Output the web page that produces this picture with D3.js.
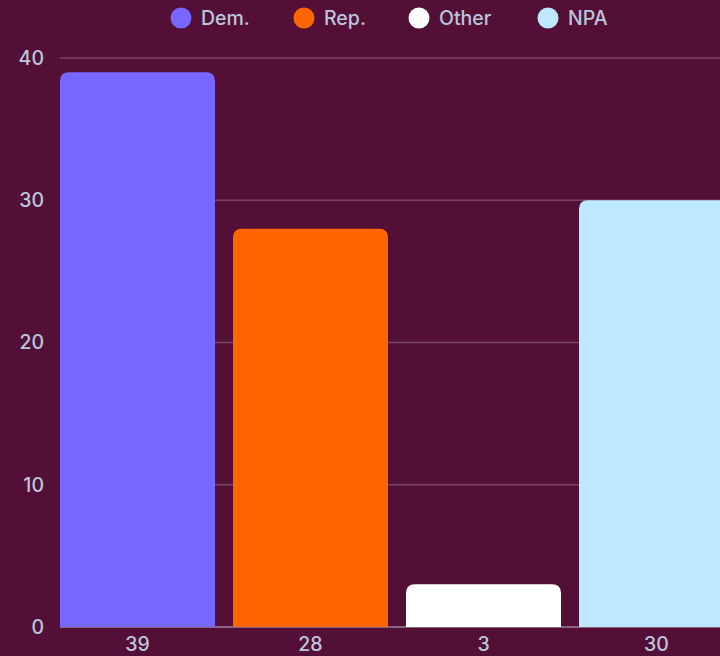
<!DOCTYPE html>
<html><head><meta charset="utf-8">
<script src="https://cdn.jsdelivr.net/npm/d3@7"></script>
<style>html,body{margin:0;padding:0;background:#540f36;overflow:hidden}</style>
</head><body>
<svg id="c" width="720" height="656"></svg>
<script>
const categories = ["Dem.", "Rep.", "Other", "NPA"];
const values = [39, 28, 3, 30];
const colors = ["#7766ff", "#ff6600", "#ffffff", "#bde8ff"];
const yTicks = [0, 10, 20, 30, 40];

const W = 720, H = 656;
const svg = d3.select("#c");
svg.append("rect").attr("width", W).attr("height", H).attr("fill", "#540f36");
const textColor = "#b9c6dd";
const font = "Inter, 'Noto Sans', sans-serif";
const fs = 19.5;

const x = d3.scaleBand().domain(categories).range([60, 734]).paddingInner(0.104).paddingOuter(0);
const y = d3.scaleLinear().domain([0, 40]).range([627, 58]);

// grid
svg.append("g").selectAll("line").data(yTicks.filter(d => d > 0)).join("line")
  .attr("x1", 60).attr("x2", W).attr("y1", d => y(d)).attr("y2", d => y(d))
  .attr("stroke", "rgba(255,255,255,0.22)").attr("stroke-width", 1.5);
svg.append("line").attr("x1", 60).attr("x2", W).attr("y1", y(0)).attr("y2", y(0))
  .attr("stroke", "rgba(200,200,220,0.6)").attr("stroke-width", 1.5);

// y labels
svg.append("g").selectAll("text").data(yTicks).join("text")
  .attr("x", 44).attr("y", d => y(d)).attr("dy", "0.35em").attr("text-anchor", "end")
  .attr("fill", textColor).attr("font-family", font).attr("font-size", fs).attr("font-weight", 500).text(d => d);

// bars with rounded top
const r = 9;
function barPath(x0, y0, w, h) {
  const rr = Math.min(r, h, w / 2);
  return `M${x0},${y0 + h}V${y0 + rr}Q${x0},${y0} ${x0 + rr},${y0}H${x0 + w - rr}Q${x0 + w},${y0} ${x0 + w},${y0 + rr}V${y0 + h}Z`;
}
svg.append("g").selectAll("path").data(categories).join("path")
  .attr("d", (c, i) => barPath(x(c), y(values[i]), x.bandwidth(), y(0) - y(values[i])))
  .attr("fill", (c, i) => colors[i]);

// x labels
svg.append("g").selectAll("text").data(categories).join("text")
  .attr("x", c => x(c) + x.bandwidth() / 2).attr("y", 644).attr("dy", "0.35em")
  .attr("text-anchor", "middle").attr("fill", textColor).attr("font-family", font).attr("font-size", fs).attr("font-weight", 500)
  .text((c, i) => values[i]);

// legend
const legX = [181, 304, 419, 548];
const lg = svg.append("g").selectAll("g").data(categories).join("g")
  .attr("transform", (c, i) => `translate(${legX[i]},18)`);
lg.append("circle").attr("r", 10.5).attr("fill", (c, i) => colors[i]);
lg.append("text").attr("x", 20).attr("dy", "0.35em").attr("fill", textColor)
  .attr("font-family", font).attr("font-size", fs).attr("font-weight", 500).text(c => c);
</script>
</body></html>
